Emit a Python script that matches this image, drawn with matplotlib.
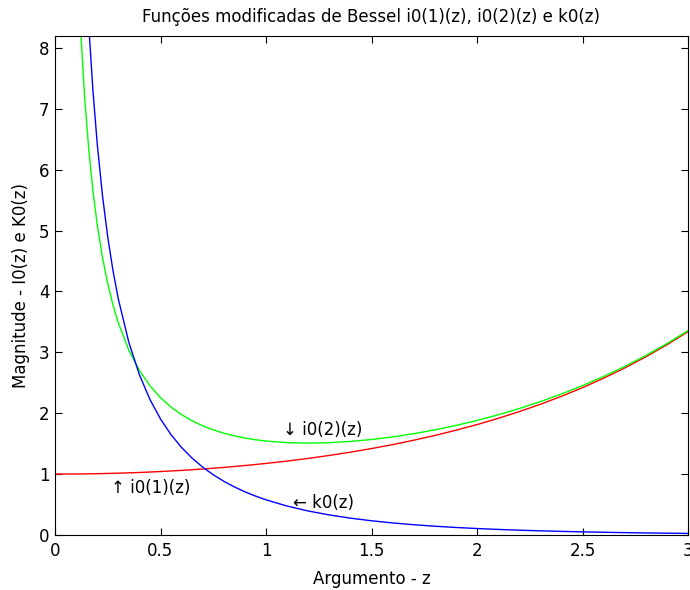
import matplotlib
matplotlib.use("Agg")
import matplotlib.pyplot as plt

plt.rcParams['font.family'] = ['DejaVu Sans']

# argument values for i0(1)(z)
z_red = [0.0, 0.1, 0.2, 0.3, 0.4, 0.5, 0.6, 0.7, 0.8, 0.9, 1.0,
         1.1, 1.2, 1.3, 1.4, 1.5, 1.6, 1.7, 1.8, 1.9, 2.0,
         2.1, 2.2, 2.3, 2.4, 2.5, 2.6, 2.7, 2.8, 2.9, 3.0]
i01 = [1.0000, 1.0017, 1.0067, 1.0151, 1.0269, 1.0422, 1.0611, 1.0837, 1.1101, 1.1406, 1.1752,
       1.2142, 1.2579, 1.3065, 1.3602, 1.4195, 1.4847, 1.5563, 1.6345, 1.7201, 1.8134,
       1.9152, 2.0260, 2.1465, 2.2776, 2.4201, 2.5749, 2.7431, 2.9257, 3.1240, 3.3393]

# argument values for i0(2)(z) and k0(z)
z_fine = [0.10, 0.12, 0.14, 0.16, 0.18, 0.20, 0.225, 0.25, 0.275, 0.30,
          0.35, 0.40, 0.45, 0.50, 0.55, 0.60, 0.65, 0.70, 0.75, 0.80,
          0.85, 0.90, 0.95, 1.0, 1.1, 1.2, 1.3, 1.4, 1.5, 1.6,
          1.7, 1.8, 1.9, 2.0, 2.1, 2.2, 2.3, 2.4, 2.5, 2.6,
          2.7, 2.8, 2.9, 3.0]
i02 = [10.050, 8.3934, 7.2130, 6.3302, 5.6458, 5.1003, 4.5574, 4.1257, 3.7747, 3.4845,
       3.0339, 2.7027, 2.4510, 2.2553, 2.1002, 1.9758, 1.8751, 1.7931, 1.7262, 1.6718,
       1.6277, 1.5923, 1.5645, 1.5431, 1.5168, 1.5089, 1.5161, 1.5364, 1.5683, 1.6109,
       1.6637, 1.7264, 1.7988, 1.8811, 1.9735, 2.0763, 2.1901, 2.3154, 2.4529, 2.6035,
       2.7679, 2.9474, 3.1430, 3.3559]
k0 = [14.213, 11.610, 9.7542, 8.3659, 7.2891, 6.4303, 5.5747, 4.8934, 4.3387, 3.8789,
      3.1626, 2.6323, 2.2257, 1.9055, 1.6478, 1.4368, 1.2616, 1.1143, 0.98932, 0.88226,
      0.78986, 0.70960, 0.63946, 0.57786, 0.47534, 0.39426, 0.32930, 0.27668, 0.23366, 0.19821,
      0.16880, 0.14425, 0.12365, 0.10629, 0.09160, 0.07911, 0.06847, 0.05937, 0.05158, 0.04487,
      0.03910, 0.03411, 0.02980, 0.02607]

x_ticks = [0, 0.5, 1, 1.5, 2, 2.5, 3]
x_ticklabels = ['0', '0.5', '1', '1.5', '2', '2.5', '3']
y_ticks = [0, 1, 2, 3, 4, 5, 6, 7, 8]

title = 'Funções modificadas de Bessel i0(1)(z), i0(2)(z) e k0(z)'
xlabel = 'Argumento - z'
ylabel = 'Magnitude - I0(z) e K0(z)'

fig = plt.figure(figsize=(6.9, 5.9), dpi=100)
ax = fig.add_axes([55/690, 1-535/590, (688-55)/690, (535-35.7)/590])

fs = 12
ax.plot(z_red, i01, color='#ff0000', lw=1.0)
ax.plot(z_fine, i02, color='#00ff00', lw=1.0)
ax.plot(z_fine, k0, color='#0000ff', lw=1.0)

ax.set_xlim(0, 3)
ax.set_ylim(0, 8.2)
ax.set_xticks(x_ticks)
ax.set_xticklabels(x_ticklabels)
ax.set_yticks(y_ticks)
ax.tick_params(direction='in', length=5, width=0.8, top=True, right=True,
               labelsize=fs, colors='black')
ax.tick_params(axis='x', pad=5)
ax.tick_params(axis='y', pad=4)
for s in ax.spines.values():
    s.set_linewidth(0.8)

ax.set_title(title, fontsize=fs, pad=10)
ax.set_xlabel(xlabel, fontsize=fs, labelpad=7)
ax.set_ylabel(ylabel, fontsize=fs, labelpad=6)

ax.text(1.081, 1.724, '\u2193 i0(2)(z)', fontsize=fs, ha='left', va='center')
ax.text(0.265, 0.772, '\u2191 i0(1)(z)', fontsize=fs, ha='left', va='center')
ax.text(1.128, 0.525, '\u2190 k0(z)', fontsize=fs, ha='left', va='center')

fig.savefig('out.png', dpi=100)
